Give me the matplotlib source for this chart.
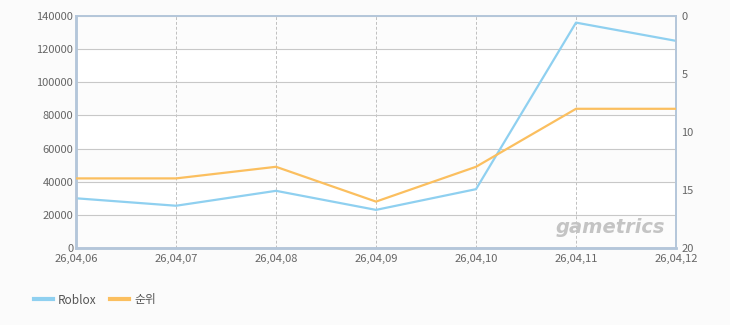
import matplotlib
matplotlib.use("Agg")
import matplotlib.pyplot as plt

plt.rcParams['font.family'] = ['Noto Sans CJK KR', 'DejaVu Sans']

dates = ["26,04,06", "26,04,07", "26,04,08", "26,04,09", "26,04,10", "26,04,11", "26,04,12"]
roblox = [30000, 25500, 34500, 23000, 35500, 136000, 125000]
rank = [14, 14, 13, 16, 13, 8, 8]
left_ticks = [0, 20000, 40000, 60000, 80000, 100000, 120000, 140000]
right_ticks = [0, 5, 10, 15, 20]

fig = plt.figure(figsize=(7.3, 3.25), dpi=100)
fig.patch.set_facecolor('#fbfbfb')
ax = fig.add_axes([76/730, 77/325, 600/730, 232/325])
ax.set_facecolor('white')
x = list(range(len(dates)))

# alternating bands
for i in range(0, len(left_ticks) - 1, 2):
    ax.axhspan(left_ticks[i], left_ticks[i+1], color='#fcfcfc', zorder=0, lw=0)

ax.plot(x, roblox, color='#8fd0f0', lw=1.6, zorder=3, label='Roblox')
ax.set_xlim(0, len(dates) - 1)
ax.set_ylim(0, 140000)
ax.set_yticks(left_ticks)
ax.set_yticklabels([str(v) for v in left_ticks])
ax.set_xticks(x)
ax.set_xticklabels(dates)
ax.grid(axis='y', color='#c8c8c8', lw=0.8, ls='-', zorder=1)
ax.grid(axis='x', color='#c0c0c0', lw=0.7, ls=(0, (3, 2)), zorder=1)
ax.tick_params(axis='y', length=0, labelsize=8, colors='#666666', pad=2)
ax.tick_params(axis='x', length=0, labelsize=8, colors='#666666', pad=4)

ax2 = ax.twinx()
ax2.plot(x, rank, color='#fbbf5f', lw=1.6, zorder=3, label='순위')
ax2.set_ylim(20, 0)
ax2.set_yticks(right_ticks)
ax2.tick_params(length=0, labelsize=8, colors='#666666', pad=4)

for a in (ax, ax2):
    for s in a.spines.values():
        s.set_color('#b4c6da')
        s.set_linewidth(1.2)
    a.spines['left'].set_linewidth(1.8)
    a.spines['bottom'].set_linewidth(1.8)

ax.text(0.982, 0.088, 'gametrics', transform=ax.transAxes, ha='right', va='center',
        fontsize=14, fontstyle='italic', fontweight='bold', color='#c4c4c4', zorder=2,
        family='DejaVu Sans')

h1, l1 = ax.get_legend_handles_labels()
h2, l2 = ax2.get_legend_handles_labels()
leg = fig.legend(h1 + h2, l1 + l2, loc='center left', bbox_to_anchor=(0.032, 25/325),
                 ncol=2, frameon=False, fontsize=8.5, handlelength=1.6, columnspacing=1.1,
                 handletextpad=0.45)
for t in leg.get_texts():
    t.set_color('#555555')
for l in leg.get_lines():
    l.set_linewidth(3)

fig.savefig('out.png', dpi=100, facecolor=fig.get_facecolor())
